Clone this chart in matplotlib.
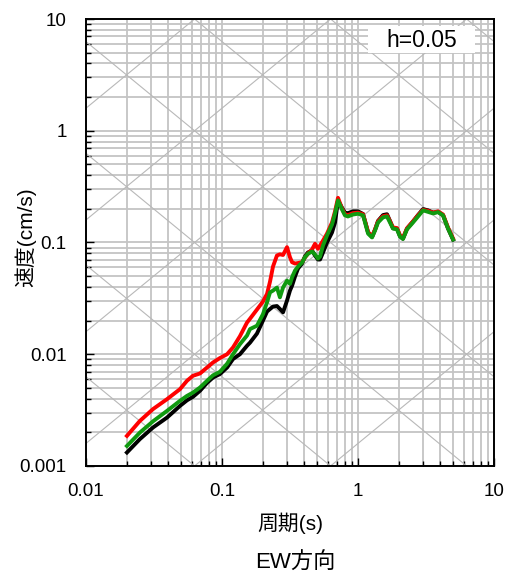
import numpy as np
import matplotlib
matplotlib.use('Agg')
import matplotlib.pyplot as plt
from matplotlib.ticker import LogLocator, FuncFormatter, NullFormatter
from matplotlib.patches import Rectangle

plt.rcParams['font.family'] = ['Liberation Sans', 'Noto Sans CJK JP', 'DejaVu Sans']

# periods (s)
period = [0.020, 0.0249, 0.0311, 0.0394, 0.0491, 0.0553, 0.0612, 0.0689, 0.0777, 0.0859,
          0.0966, 0.109, 0.1205, 0.1355, 0.1527, 0.1607, 0.1807, 0.200, 0.2144, 0.2255,
          0.2371, 0.2535, 0.2666, 0.281, 0.3006, 0.316, 0.3275, 0.3443, 0.362, 0.3873,
          0.4072, 0.4281, 0.4592, 0.4828, 0.5077, 0.5259, 0.5529, 0.5915, 0.644, 0.6777,
          0.7127, 0.762, 0.8013, 0.8426, 0.918, 1.0, 1.089, 1.186, 1.268, 1.334,
          1.403, 1.528, 1.634, 1.718, 1.807, 1.935, 2.035, 2.14, 2.291, 2.536,
          2.762, 3.008, 3.272, 3.56, 3.874, 4.217, 4.59, 5.0]

# velocity response (cm/s)
vel_black = [0.00132, 0.00174, 0.00221, 0.00271, 0.00345, 0.00387, 0.00416, 0.00471, 0.00555, 0.00619,
             0.00665, 0.00761, 0.00906, 0.0100, 0.0119, 0.0127, 0.0153, 0.0200, 0.0241, 0.0254,
             0.0267, 0.0270, 0.0254, 0.0237, 0.0302, 0.0371, 0.0411, 0.0496, 0.0584, 0.0648,
             0.0749, 0.0814, 0.0848, 0.0765, 0.0704, 0.0704, 0.0814, 0.100, 0.123, 0.151,
             0.238, 0.205, 0.185, 0.183, 0.190, 0.190, 0.180, 0.123, 0.112, 0.130,
             0.156, 0.176, 0.179, 0.156, 0.134, 0.133, 0.114, 0.108, 0.133, 0.154,
             0.176, 0.199, 0.194, 0.185, 0.188, 0.176, 0.1335, 0.106]

vel_red = [0.00186, 0.00253, 0.00323, 0.00396, 0.00487, 0.00579, 0.00642, 0.00673, 0.00761, 0.00844,
           0.00925, 0.0100, 0.0115, 0.0145, 0.0192, 0.0208, 0.0251, 0.0296, 0.0347, 0.0447,
           0.0609, 0.0765, 0.0784, 0.0773, 0.0908, 0.0738, 0.0666, 0.0648, 0.0655, 0.0666,
           0.0734, 0.0792, 0.0866, 0.0973, 0.0878, 0.0940, 0.104, 0.120, 0.151, 0.190,
           0.251, 0.202, 0.179, 0.176, 0.183, 0.185, 0.179, 0.124, 0.1135, 0.131,
           0.1545, 0.172, 0.175, 0.155, 0.1365, 0.1345, 0.116, 0.110, 0.134, 0.1545,
           0.175, 0.196, 0.192, 0.185, 0.190, 0.178, 0.136, 0.1085]

vel_green = [0.00151, 0.00199, 0.00251, 0.00311, 0.00383, 0.00424, 0.00454, 0.00504, 0.00579, 0.00648,
             0.00697, 0.00822, 0.0100, 0.0123, 0.0147, 0.0168, 0.0180, 0.0228, 0.0292, 0.0358,
             0.0371, 0.0395, 0.0323, 0.0395, 0.0456, 0.0426, 0.0489, 0.0561, 0.0609, 0.0661,
             0.0738, 0.0792, 0.0831, 0.0781, 0.0719, 0.0749, 0.0940, 0.1156, 0.145, 0.182,
             0.238, 0.198, 0.175, 0.171, 0.178, 0.181, 0.175, 0.120, 0.111, 0.128,
             0.151, 0.168, 0.171, 0.151, 0.1335, 0.131, 0.113, 0.1075, 0.131, 0.151,
             0.171, 0.194, 0.188, 0.182, 0.187, 0.175, 0.1335, 0.1064]

# tripartite guide lines (one per decade)
disp_levels = [10.0 ** k for k in range(-6, 3)]   # cm
acc_levels = [10.0 ** k for k in range(-2, 6)]    # cm/s^2

fig = plt.figure(figsize=(5.07, 5.76), dpi=100)
ax = fig.add_axes([0.1696, 0.191, 0.8048, 0.776])
ax.set_xscale('log')
ax.set_yscale('log')
ax.set_xlim(0.01, 10)
ax.set_ylim(0.001, 10)

grid_col = '#c4c4c4'
ax.grid(which='both', color=grid_col, linewidth=1.3, zorder=0)
ax.set_axisbelow(True)

tt = np.logspace(-2, 1, 50)
for d in disp_levels:
    ax.plot(tt, 2 * np.pi * d / tt, color='#b8b8b8', lw=0.8, zorder=1)
for a in acc_levels:
    ax.plot(tt, a * tt / (2 * np.pi), color='#b8b8b8', lw=0.8, zorder=1)

ax.plot(period, vel_black, color='black', lw=2.8, zorder=3)
ax.plot(period, vel_red, color='#ff0000', lw=2.8, zorder=4)
ax.plot(period, vel_green, color='#109a10', lw=2.8, zorder=5)

ax.add_patch(Rectangle((0.691, 0.924), 0.262, 0.060, transform=ax.transAxes,
                       facecolor='white', edgecolor='none', zorder=6))
ax.text(0.822, 0.953, 'h=0.05', transform=ax.transAxes, ha='center', va='center',
        fontsize=16.5, zorder=7)

fmt = FuncFormatter(lambda v, p: '{:g}'.format(v))
ax.xaxis.set_major_locator(LogLocator(base=10))
ax.yaxis.set_major_locator(LogLocator(base=10))
ax.xaxis.set_minor_locator(LogLocator(base=10, subs=np.arange(2, 10)))
ax.yaxis.set_minor_locator(LogLocator(base=10, subs=np.arange(2, 10)))
ax.xaxis.set_major_formatter(fmt)
ax.yaxis.set_major_formatter(fmt)
ax.xaxis.set_minor_formatter(NullFormatter())
ax.yaxis.set_minor_formatter(NullFormatter())
ax.tick_params(which='both', direction='in', top=False, right=False, labelsize=13.5, width=1)
ax.tick_params(which='major', length=6)
ax.tick_params(which='minor', length=3.5)
ax.tick_params(axis='x', pad=12)
ax.tick_params(axis='y', pad=14)
for s in ax.spines.values():
    s.set_linewidth(1.4)

ax.set_xlabel('周期(s)', fontsize=15, va='center')
ax.xaxis.set_label_coords(0.5, -0.1275)
ax.set_ylabel('速度(cm/s)', fontsize=15, va='center', ha='center')
ax.yaxis.set_label_coords(-0.1495, 0.512)
fig.text(0.582, 0.0226, 'EW方向', ha='center', va='center', fontsize=16)

fig.savefig('out.png', dpi=100)
